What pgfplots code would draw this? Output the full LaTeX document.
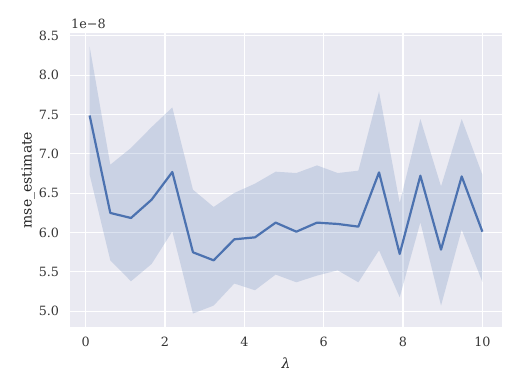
\documentclass[border=0pt]{standalone}
\usepackage{fontspec}
\setmainfont{DejaVu Serif}
\usepackage{pgfplots}
\usepackage{pgfplotstable}
\pgfplotsset{compat=1.18}
\usepgfplotslibrary{fillbetween}
\definecolor{seablue}{HTML}{4C72B0}
\definecolor{seabg}{HTML}{EAEAF2}

% lambda, mean, lower and upper bound of the band (units of 1e-8)
\pgfplotstableread{
x      mean  lo    hi
0.100  7.487 6.735 8.363
0.621  6.249 5.647 6.862
1.142  6.185 5.381 7.074
1.663  6.418 5.601 7.340
2.184  6.769 6.015 7.589
2.705  5.749 4.971 6.544
3.226  5.647 5.072 6.325
3.747  5.914 5.352 6.503
4.268  5.939 5.267 6.621
4.789  6.126 5.466 6.773
5.311  6.011 5.368 6.756
5.832  6.126 5.453 6.853
6.353  6.109 5.520 6.756
6.874  6.075 5.368 6.786
7.395  6.764 5.774 7.792
7.916  5.728 5.178 6.376
8.437  6.722 6.129 7.442
8.958  5.783 5.072 6.586
9.479  6.713 6.037 7.442
10.000 6.011 5.373 6.735
}\mse

\begin{document}
\begin{tikzpicture}
\begin{axis}[at={(0,0)},anchor=south west,
 scale only axis,width=432bp,height=294bp,
 xmin=-0.395,xmax=10.495,ymin=4.80,ymax=8.535,
 xtick={0,2,4,6,8,10},ytick={5,5.5,6,6.5,7,7.5,8,8.5},
 axis background/.style={fill=seabg},
 axis line style={draw=none},major tick length=0pt,
 grid=major,grid style={white,line width=1.1bp},
 tick label style={font=\fontsize{12.8}{14}\selectfont,text=black!80},
 /pgf/number format/assume math mode=true,
 yticklabel={\pgfmathprintnumber[fixed,fixed zerofill,precision=1]{\tick}},
 xticklabel style={anchor=north,inner sep=0pt,yshift=-10bp},
 yticklabel style={anchor=east,inner sep=0pt,xshift=-10.7bp},
 xlabel={\itshape λ},ylabel={mse\_estimate},
 every axis x label/.style={at={(rel axis cs:0.5,0)},anchor=base,yshift=-41bp,
  inner sep=0pt,font=\fontsize{14}{16}\selectfont,text=black!85},
 every axis y label/.style={at={(rel axis cs:0,0.5)},xshift=-35bp,anchor=south,rotate=90,
  inner sep=0pt,font=\fontsize{14}{16}\selectfont,text=black!85},
 clip=false]
\addplot[name path=hi,draw=none] table[x=x,y=hi]{\mse};
\addplot[name path=lo,draw=none] table[x=x,y=lo]{\mse};
\addplot[fill=seablue,fill opacity=0.2,draw=none] fill between[of=hi and lo];
\addplot[seablue,line width=2.2bp,line join=round] table[x=x,y=mean]{\mse};
\node[anchor=base west,inner sep=0pt,font=\fontsize{12.8}{14}\selectfont,text=black!80]
 at (rel axis cs:0,1) [xshift=1bp,yshift=4bp] {1e−8};
\end{axis}
\path[use as bounding box] (-70bp,-63bp) rectangle (450bp,327bp);
\end{tikzpicture}
\end{document}
